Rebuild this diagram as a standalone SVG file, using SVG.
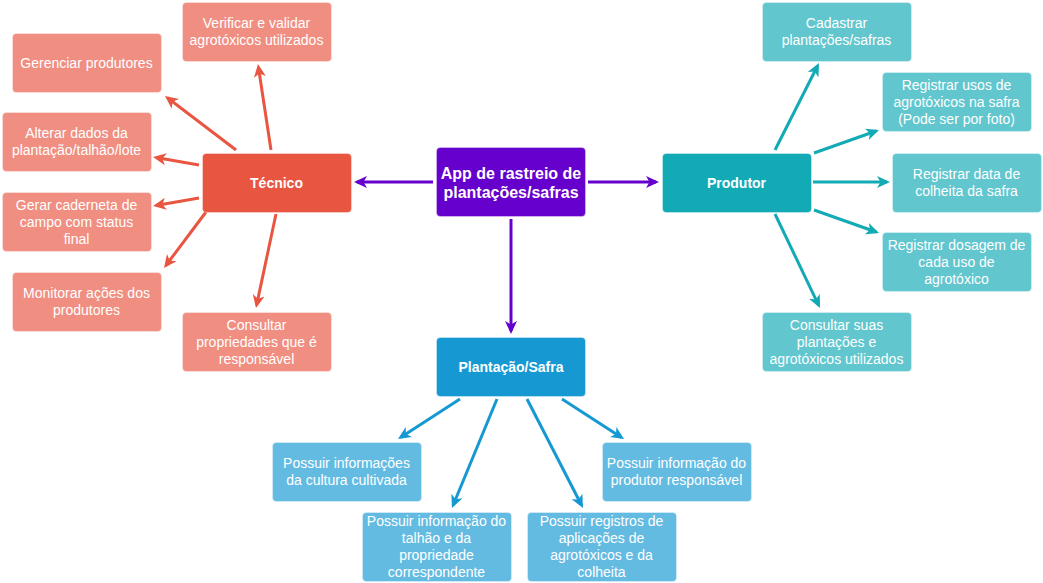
<svg xmlns="http://www.w3.org/2000/svg" width="1043" height="583" viewBox="0 0 1043 583">
<style>
text{font-family:"Liberation Sans",Arial,sans-serif;fill:#ffffff;text-anchor:middle;font-size:14px}
.b{font-weight:bold}
.b16{font-weight:bold;font-size:16px}
rect{stroke:#ffffff;stroke-opacity:0.35;stroke-width:1}
.lr{fill:#F08E81}.r{fill:#E85642}.p{fill:#6600CC}.t{fill:#12AAB5}.lt{fill:#61C6CE}.bl{fill:#1699D3}.lb{fill:#64BBE2}
line{stroke-width:3;fill:none}
.cr{stroke:#E85642}.ct{stroke:#12AAB5}.cb{stroke:#1699D3}.cp{stroke:#6600CC}
</style>
<defs>
<marker id="ar" viewBox="0 -7 13 14" markerWidth="13" markerHeight="14" refX="10" refY="0" orient="auto" markerUnits="userSpaceOnUse"><path d="M0,-6 L13,0 L0,6 L3.5,0 Z" fill="#E85642"/></marker>
<marker id="at" viewBox="0 -7 13 14" markerWidth="13" markerHeight="14" refX="10" refY="0" orient="auto" markerUnits="userSpaceOnUse"><path d="M0,-6 L13,0 L0,6 L3.5,0 Z" fill="#12AAB5"/></marker>
<marker id="ab" viewBox="0 -7 13 14" markerWidth="13" markerHeight="14" refX="10" refY="0" orient="auto" markerUnits="userSpaceOnUse"><path d="M0,-6 L13,0 L0,6 L3.5,0 Z" fill="#1699D3"/></marker>
<marker id="ap" viewBox="0 -7 13 14" markerWidth="13" markerHeight="14" refX="10" refY="0" orient="auto" markerUnits="userSpaceOnUse"><path d="M0,-6 L13,0 L0,6 L3.5,0 Z" fill="#6600CC"/></marker>
</defs>
<g id="connectors">
<line class="cp" x1="433" y1="182" x2="357" y2="182" marker-end="url(#ap)"/>
<line class="cp" x1="588" y1="182" x2="656" y2="182" marker-end="url(#ap)"/>
<line class="cp" x1="511" y1="219" x2="511" y2="331" marker-end="url(#ap)"/>
<line class="cr" x1="271" y1="150" x2="258.4" y2="67" marker-end="url(#ar)"/>
<line class="cr" x1="236" y1="150" x2="167.4" y2="97.8" marker-end="url(#ar)"/>
<line class="cr" x1="199" y1="165" x2="156" y2="157.5" marker-end="url(#ar)"/>
<line class="cr" x1="199" y1="198" x2="156" y2="205.5" marker-end="url(#ar)"/>
<line class="cr" x1="206" y1="212" x2="165.8" y2="265.6" marker-end="url(#ar)"/>
<line class="cr" x1="276" y1="214" x2="256.6" y2="305.1" marker-end="url(#ar)"/>
<line class="ct" x1="775" y1="150" x2="817.6" y2="65.7" marker-end="url(#at)"/>
<line class="ct" x1="814" y1="153" x2="876.2" y2="131" marker-end="url(#at)"/>
<line class="ct" x1="813" y1="182" x2="887" y2="182" marker-end="url(#at)"/>
<line class="ct" x1="814" y1="210" x2="876.2" y2="232" marker-end="url(#at)"/>
<line class="ct" x1="775" y1="214" x2="818.7" y2="305.3" marker-end="url(#at)"/>
<line class="cb" x1="460" y1="399" x2="400.5" y2="437.4" marker-end="url(#ab)"/>
<line class="cb" x1="497" y1="399" x2="453.1" y2="505.2" marker-end="url(#ab)"/>
<line class="cb" x1="527" y1="399" x2="581.6" y2="505.3" marker-end="url(#ab)"/>
<line class="cb" x1="562" y1="399" x2="621.5" y2="437.4" marker-end="url(#ab)"/>
</g>
<g id="verificar"><rect class="lr" x="182.5" y="2.5" width="149" height="59" rx="4"/><text><tspan x="256.5" y="28">Verificar e validar</tspan><tspan x="256.5" y="45">agrotóxicos utilizados</tspan></text></g>
<g id="gerenciar"><rect class="lr" x="12.5" y="33.5" width="149" height="59" rx="4"/><text><tspan x="86.5" y="67.5">Gerenciar produtores</tspan></text></g>
<g id="alterar"><rect class="lr" x="2.5" y="112.5" width="149" height="59" rx="4"/><text><tspan x="76.5" y="138">Alterar dados da</tspan><tspan x="76.5" y="155">plantação/talhão/lote</tspan></text></g>
<g id="tecnico"><rect class="r" x="202.5" y="153.5" width="149" height="59" rx="4"/><text class="b"><tspan x="276.5" y="187.5">Técnico</tspan></text></g>
<g id="gerar"><rect class="lr" x="2.5" y="192.5" width="149" height="59" rx="4"/><text><tspan x="76.5" y="209.5">Gerar caderneta de</tspan><tspan x="76.5" y="226.5">campo com status</tspan><tspan x="76.5" y="243.5">final</tspan></text></g>
<g id="monitorar"><rect class="lr" x="12.5" y="272.5" width="149" height="59" rx="4"/><text><tspan x="86.5" y="298">Monitorar ações dos</tspan><tspan x="86.5" y="315">produtores</tspan></text></g>
<g id="consultar-propriedades"><rect class="lr" x="182.5" y="312.5" width="149" height="59" rx="4"/><text><tspan x="256.5" y="329.5">Consultar</tspan><tspan x="256.5" y="346.5">propriedades que é</tspan><tspan x="256.5" y="363.5">responsável</tspan></text></g>
<g id="app"><rect class="p" x="436.5" y="147.5" width="149" height="69" rx="4"/><text class="b16"><tspan x="511" y="178.5">App de rastreio de</tspan><tspan x="511" y="197.5">plantações/safras</tspan></text></g>
<g id="produtor"><rect class="t" x="662.5" y="153.5" width="149" height="59" rx="4"/><text class="b"><tspan x="736.5" y="187.5">Produtor</tspan></text></g>
<g id="cadastrar"><rect class="lt" x="762.5" y="2.5" width="149" height="59" rx="4"/><text><tspan x="836.5" y="28">Cadastrar</tspan><tspan x="836.5" y="45">plantações/safras</tspan></text></g>
<g id="registrar-usos"><rect class="lt" x="882.5" y="72.5" width="149" height="59" rx="4"/><text><tspan x="956.5" y="89.5">Registrar usos de</tspan><tspan x="956.5" y="106.5">agrotóxicos na safra</tspan><tspan x="956.5" y="123.5">(Pode ser por foto)</tspan></text></g>
<g id="registrar-data"><rect class="lt" x="892.5" y="153.5" width="149" height="59" rx="4"/><text><tspan x="966.5" y="179">Registrar data de</tspan><tspan x="966.5" y="196">colheita da safra</tspan></text></g>
<g id="registrar-dosagem"><rect class="lt" x="882.5" y="232.5" width="149" height="59" rx="4"/><text><tspan x="956.5" y="249.5">Registrar dosagem de</tspan><tspan x="956.5" y="266.5">cada uso de</tspan><tspan x="956.5" y="283.5">agrotóxico</tspan></text></g>
<g id="consultar-suas"><rect class="lt" x="762.5" y="312.5" width="149" height="59" rx="4"/><text><tspan x="836.5" y="329.5">Consultar suas</tspan><tspan x="836.5" y="346.5">plantações e</tspan><tspan x="836.5" y="363.5">agrotóxicos utilizados</tspan></text></g>
<g id="plantacao"><rect class="bl" x="436.5" y="337.5" width="149" height="59" rx="4"/><text class="b"><tspan x="511" y="372">Plantação/Safra</tspan></text></g>
<g id="cultura"><rect class="lb" x="272.5" y="442.5" width="149" height="59" rx="4"/><text><tspan x="346.5" y="468">Possuir informações</tspan><tspan x="346.5" y="485">da cultura cultivada</tspan></text></g>
<g id="talhao"><rect class="lb" x="362.5" y="512.5" width="149" height="69" rx="4"/><text><tspan x="436.5" y="526">Possuir informação do</tspan><tspan x="436.5" y="543">talhão e da</tspan><tspan x="436.5" y="560">propriedade</tspan><tspan x="436.5" y="577">correspondente</tspan></text></g>
<g id="registros"><rect class="lb" x="527.5" y="512.5" width="149" height="69" rx="4"/><text><tspan x="601.5" y="526">Possuir registros de</tspan><tspan x="601.5" y="543">aplicações de</tspan><tspan x="601.5" y="560">agrotóxicos e da</tspan><tspan x="601.5" y="577">colheita</tspan></text></g>
<g id="produtor-responsavel"><rect class="lb" x="602.5" y="442.5" width="149" height="59" rx="4"/><text><tspan x="676.5" y="468">Possuir informação do</tspan><tspan x="676.5" y="485">produtor responsável</tspan></text></g>
</svg>
